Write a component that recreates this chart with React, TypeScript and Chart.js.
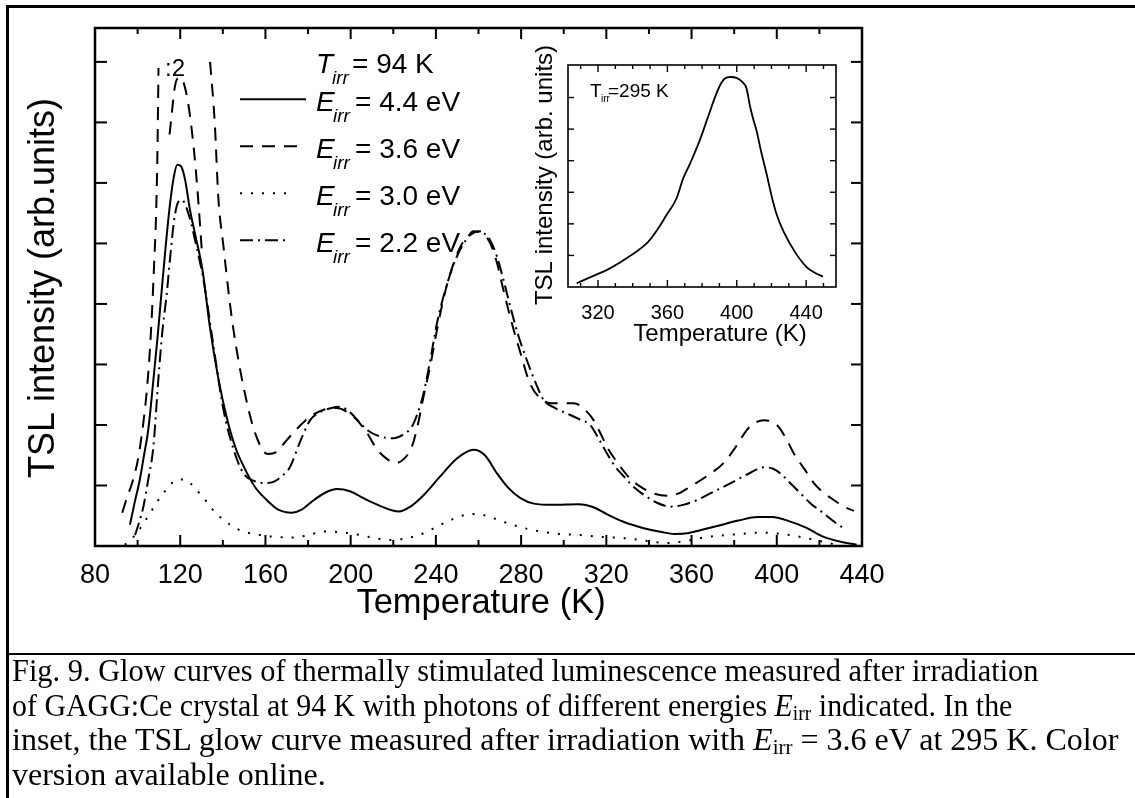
import React, { useEffect, useRef } from "react";
import { Chart, registerables } from "chart.js";

Chart.register(...registerables);

const SANS = "'Liberation Sans', Arial, Helvetica, sans-serif";
const SERIF = "'Liberation Serif', 'Times New Roman', serif";

// ---- main chart data: [temperature (K), TSL intensity (arb. units)] ----
const E44: [number, number][] = [
  [96.4, 0.35], [98.5, 0.7], [101, 1.09], [103, 1.5], [105, 1.92], [107.4, 2.74], [109.5, 3.5],
  [111.5, 4.3], [113.3, 5.0], [115.2, 5.65], [117, 6.1], [118.6, 6.3], [120.3, 6.28], [122.3, 6.05],
  [124.6, 5.55], [127, 5.15], [130.5, 4.55], [134, 3.6], [138, 2.75], [142, 2.1], [146, 1.62],
  [150, 1.3], [155, 0.98], [160.6, 0.76], [166, 0.6], [172.4, 0.55], [177, 0.6], [182, 0.74],
  [188, 0.88], [193.5, 0.94], [200, 0.9], [206, 0.79], [214, 0.66], [222.5, 0.57], [228, 0.65],
  [234.2, 0.84], [242, 1.15], [250, 1.45], [257.7, 1.59], [263, 1.5], [268.7, 1.2], [274, 0.96],
  [279.7, 0.79], [286, 0.7], [295, 0.68], [307, 0.69], [314, 0.64], [320, 0.53], [328, 0.4],
  [338, 0.29], [346, 0.23], [352, 0.2], [358, 0.21], [364, 0.26], [372, 0.33], [382, 0.42],
  [391, 0.48], [398, 0.48], [405, 0.42], [414, 0.3], [422, 0.15], [430, 0.07], [437.5, 0.02],
];

// E = 3.6 eV, full scale (first peak runs off the top of the plot)
const E36_LEFT: [number, number][] = [
  [92.8, 0.55], [95, 0.8], [97.5, 1.05], [100, 1.4], [102, 1.85], [104, 2.45], [105.5, 3.1],
  [106.8, 3.9], [107.8, 4.7], [108.6, 5.4], [109.3, 6.5], [109.8, 7.9],
];
const E36_RIGHT: [number, number][] = [
  [134, 8.0], [136.2, 7.0], [137.9, 5.75], [140.3, 4.95], [143, 4.1], [145, 3.57], [149.7, 2.63],
  [155.2, 1.86], [161, 1.52], [165, 1.55], [170, 1.75], [176, 1.98], [181, 2.14], [188, 2.26],
  [193.5, 2.28], [199, 2.2], [203, 2.08], [208, 1.85], [212.3, 1.6], [217, 1.44], [221, 1.37],
  [225, 1.44], [228.7, 1.64], [231.5, 2.0], [234.2, 2.47], [237.5, 3.0], [240.5, 3.57], [244, 4.15],
  [248.3, 4.67], [252, 4.98], [256.1, 5.14], [260.8, 5.2], [265.5, 5.0], [268.5, 4.7], [271.7, 4.23],
  [275.5, 3.7], [279.7, 3.19], [284, 2.7], [289, 2.44], [294, 2.36], [304.7, 2.36], [310, 2.25],
  [314, 2.08], [317, 1.88], [320.3, 1.64], [326.6, 1.31], [331, 1.12], [336, 0.98], [342, 0.87],
  [348.5, 0.83], [354, 0.87], [359.3, 0.98], [367, 1.15], [375, 1.37], [381, 1.65], [386, 1.92],
  [390, 2.04], [394, 2.08], [400, 2.0], [404, 1.8], [408, 1.53], [413, 1.27], [417.4, 1.04],
  [422, 0.88], [426.8, 0.76], [431, 0.66], [436.2, 0.58],
];
// E = 3.6 eV, first peak divided by 2 (":2")
const E36_HALF: [number, number][] = [
  [115.0, 6.8], [116.2, 7.2], [117.3, 7.55], [118.6, 7.72], [120.2, 7.74], [121.9, 7.62],
  [123.8, 7.3], [125.5, 6.85], [127.1, 6.3], [128.7, 5.6], [130.1, 4.9],
];

const E30: [number, number][] = [
  [94, 0.02], [96.5, 0.1], [99.6, 0.21], [102.5, 0.36], [105.8, 0.54], [109, 0.72], [112.1, 0.87],
  [115.5, 1.02], [119.1, 1.1], [121.5, 1.1], [124.6, 1.04], [127.5, 0.93], [130.9, 0.8], [134.5, 0.63],
  [138.7, 0.48], [143, 0.36], [148.1, 0.26], [157.5, 0.18], [165, 0.15], [173.2, 0.14], [180, 0.18],
  [187.3, 0.24], [194, 0.23], [201.4, 0.2], [210, 0.14], [218.6, 0.1], [225, 0.12], [231.1, 0.17],
  [236, 0.24], [240.5, 0.32], [247, 0.43], [254.6, 0.52], [259.3, 0.53], [266, 0.47], [273.4, 0.38],
  [281, 0.3], [289, 0.24], [298, 0.2], [307.8, 0.18], [318, 0.15], [328.2, 0.13], [338, 0.09],
  [348.5, 0.05], [357, 0.08], [367.3, 0.15], [380, 0.19], [392.4, 0.22], [402, 0.2], [411.2, 0.15],
  [418, 0.1], [425.3, 0.04], [430, 0.01],
];

const E22: [number, number][] = [
  [98.8, 0.18], [100.8, 0.4], [102.7, 0.65], [105, 1.1], [107.4, 1.64], [109.7, 2.74], [111.5, 3.5],
  [113.7, 4.18], [115.5, 4.85], [117.2, 5.4], [119, 5.68], [120.8, 5.72], [122.8, 5.6], [125, 5.35],
  [127.3, 5.0], [130.9, 4.4], [135, 3.45], [140.3, 2.25], [145, 1.6], [149.7, 1.2], [155, 1.07],
  [160, 1.04], [163.8, 1.06], [167.5, 1.15], [171.6, 1.31], [176, 1.7], [181, 2.08], [186, 2.22],
  [191, 2.28], [195.1, 2.3], [200, 2.2], [204, 2.05], [207.6, 1.92], [213, 1.82], [220.1, 1.78],
  [225, 1.85], [228.7, 1.97], [231.5, 2.2], [234.2, 2.52], [237.5, 3.1], [240.5, 3.68], [245, 4.3],
  [249.8, 4.78], [254, 5.05], [257.7, 5.2], [262.4, 5.17], [265.5, 5.05], [268.7, 4.78], [271.7, 4.4],
  [274.9, 3.96], [278.5, 3.5], [282.7, 3.07], [287, 2.68], [290.6, 2.41], [296, 2.28], [301.5, 2.19],
  [307, 2.1], [312.4, 2.0], [316, 1.8], [320.3, 1.53], [324, 1.32], [328.2, 1.15], [333, 0.97],
  [339.1, 0.81], [344, 0.71], [350.1, 0.65], [356, 0.68], [362.6, 0.76], [370, 0.89], [378.4, 1.04],
  [386, 1.18], [393.9, 1.3], [398, 1.28], [401.7, 1.2], [406, 1.05], [411.1, 0.87], [416, 0.7],
  [422, 0.54], [427, 0.4], [431.5, 0.29],
];

const MAIN_X_TICKS = [80, 120, 160, 200, 240, 280, 320, 360, 400, 440];
const MAIN_X_MINOR = [100, 140, 180, 220, 260, 300, 340, 380, 420];
const MAIN_Y_TICKS = [1, 2, 3, 4, 5, 6, 7, 8];
const LEGEND_TITLE = "= 94 K";
const LEGEND_LABELS = ["= 4.4 eV", "= 3.6 eV", "= 3.0 eV", "= 2.2 eV"];

// ---- inset data: E = 3.6 eV irradiated at 295 K ----
const INSET: [number, number][] = [
  [307.7, 0.12], [316, 0.32], [326.9, 0.59], [338.4, 0.98], [348.9, 1.43], [354, 1.8], [359.5, 2.28],
  [365.3, 2.81], [369.1, 3.44], [373, 3.9], [378.7, 4.65], [383.5, 5.4], [388.3, 6.13], [391, 6.45],
  [393.1, 6.6], [396.5, 6.65], [399.8, 6.62], [403, 6.5], [405.6, 6.29], [407.5, 5.76], [409.3, 5.35],
  [411.3, 4.97], [414, 4.3], [417.1, 3.6], [420, 2.9], [422.8, 2.33], [427, 1.75], [433.4, 1.12],
  [440.1, 0.64], [445, 0.45], [449.7, 0.33],
];
const INSET_X_TICKS = [320, 360, 400, 440];
const INSET_X_MINOR = [310, 330, 340, 350, 370, 380, 390, 410, 420, 430, 450];
const INSET_Y_TICKS = [1, 2, 3, 4, 5, 6];

// ---- styles ----
const SOLID: number[] = [];
const DASH = [13, 9];
const DOT = [2, 9];
const DASHDOT = [13, 5, 2, 5];
const LEGEND_DASHES = [SOLID, DASH, DOT, DASHDOT];
const LEGEND_LEN = [66, 57, 52, 49];

function ds(data: [number, number][], dash: number[], width = 2) {
  return {
    data: data.map(([x, y]) => ({ x, y })),
    borderColor: "#000",
    borderWidth: width,
    borderDash: dash,
    borderCapStyle: "butt",
    borderJoinStyle: "round",
    pointRadius: 0,
    showLine: true,
    fill: false,
    cubicInterpolationMode: "monotone",
  };
}

function seg(ctx: CanvasRenderingContext2D, x1: number, y1: number, x2: number, y2: number) {
  ctx.beginPath();
  ctx.moveTo(x1, y1);
  ctx.lineTo(x2, y2);
  ctx.stroke();
}

const mainDecor = {
  id: "mainDecor",
  afterDraw(chart: any) {
    const { ctx, chartArea: a, scales } = chart;
    const x = scales.x;
    const y = scales.y;
    ctx.save();
    ctx.setLineDash([]);
    ctx.strokeStyle = "#000";
    ctx.lineWidth = 2.5;
    ctx.strokeRect(a.left, a.top, a.right - a.left, a.bottom - a.top);
    ctx.lineWidth = 2;
    MAIN_X_TICKS.forEach((t) => {
      const px = x.getPixelForValue(t);
      seg(ctx, px, a.bottom, px, a.bottom - 11);
      seg(ctx, px, a.top, px, a.top + 11);
    });
    MAIN_X_MINOR.forEach((t) => {
      const px = x.getPixelForValue(t);
      seg(ctx, px, a.bottom, px, a.bottom - 6);
      seg(ctx, px, a.top, px, a.top + 6);
    });
    MAIN_Y_TICKS.forEach((v) => {
      const py = y.getPixelForValue(v);
      seg(ctx, a.left, py, a.left + 12, py);
      seg(ctx, a.right, py, a.right - 11, py);
    });

    ctx.fillStyle = "#000";
    ctx.textBaseline = "alphabetic";
    // axis titles
    ctx.font = `34.5px ${SANS}`;
    ctx.textAlign = "center";
    ctx.fillText("Temperature (K)", 481, 613);
    ctx.save();
    ctx.translate(54, 288);
    ctx.rotate(-Math.PI / 2);
    ctx.font = `36px ${SANS}`;
    ctx.fillText("TSL intensity (arb.units)", 0, 0);
    ctx.restore();

    // ":2" marker
    ctx.textAlign = "left";
    ctx.font = `24px ${SANS}`;
    ctx.fillText(":2", 165, 76);

    // legend
    ctx.font = `italic 28px ${SANS}`;
    ctx.fillText("T", 316, 73);
    ctx.font = `italic 19px ${SANS}`;
    ctx.fillText("irr", 332, 84);
    ctx.font = `28px ${SANS}`;
    ctx.fillText(LEGEND_TITLE, 352, 73);
    LEGEND_LABELS.forEach((lab, i) => {
      const b = 110.7 + i * 47;
      ctx.setLineDash(LEGEND_DASHES[i]);
      ctx.lineWidth = 2;
      seg(ctx, 240, b - 11.5, 240 + LEGEND_LEN[i], b - 11.5);
      ctx.setLineDash([]);
      ctx.font = `italic 28px ${SANS}`;
      ctx.fillText("E", 316, b);
      ctx.font = `italic 19px ${SANS}`;
      ctx.fillText("irr", 333, b + 11);
      ctx.font = `28px ${SANS}`;
      ctx.fillText(lab, 355, b);
    });
    ctx.restore();
  },
};

const insetDecor = {
  id: "insetDecor",
  afterDraw(chart: any) {
    const { ctx, chartArea: a, scales } = chart;
    const x = scales.x;
    const y = scales.y;
    ctx.save();
    ctx.setLineDash([]);
    ctx.strokeStyle = "#000";
    ctx.lineWidth = 1.6;
    ctx.strokeRect(a.left, a.top, a.right - a.left, a.bottom - a.top);
    ctx.lineWidth = 1.4;
    INSET_X_TICKS.forEach((t) => {
      const px = x.getPixelForValue(t);
      seg(ctx, px, a.bottom, px, a.bottom - 7);
      seg(ctx, px, a.top, px, a.top + 7);
    });
    INSET_X_MINOR.forEach((t) => {
      const px = x.getPixelForValue(t);
      seg(ctx, px, a.bottom, px, a.bottom - 4);
      seg(ctx, px, a.top, px, a.top + 4);
    });
    INSET_Y_TICKS.forEach((v) => {
      const py = y.getPixelForValue(v);
      seg(ctx, a.left, py, a.left + 6, py);
      seg(ctx, a.right, py, a.right - 6, py);
    });
    ctx.fillStyle = "#000";
    ctx.textBaseline = "alphabetic";
    ctx.textAlign = "center";
    ctx.font = `24px ${SANS}`;
    ctx.fillText("Temperature (K)", 220, 311);
    ctx.save();
    ctx.translate(52, 145);
    ctx.rotate(-Math.PI / 2);
    ctx.font = `24px ${SANS}`;
    ctx.fillText("TSL intensity (arb. units)", 0, 0);
    ctx.restore();
    ctx.textAlign = "left";
    ctx.font = `19px ${SANS}`;
    ctx.fillText("T", 90, 67);
    ctx.font = `10px ${SANS}`;
    ctx.fillText("irr", 101, 72);
    ctx.font = `19px ${SANS}`;
    ctx.fillText("=295 K", 108, 67);
    ctx.restore();
  },
};

export default function App() {
  const mainRef = useRef<HTMLCanvasElement | null>(null);
  const insetRef = useRef<HTMLCanvasElement | null>(null);

  useEffect(() => {
    const main = new Chart(mainRef.current as HTMLCanvasElement, {
      type: "scatter",
      data: {
        datasets: [
          ds(E44, SOLID),
          ds(E36_LEFT, DASH),
          ds(E36_RIGHT, DASH),
          ds(E36_HALF, DASH),
          ds(E30, DOT),
          ds(E22, DASHDOT),
        ] as any,
      },
      options: {
        responsive: false,
        animation: false,
        maintainAspectRatio: false,
        layout: { padding: { left: 0, top: 28, right: 1135 - 862, bottom: 0 } },
        plugins: { legend: { display: false }, tooltip: { enabled: false } },
        scales: {
          x: {
            type: "linear",
            min: 80,
            max: 440,
            afterFit: (s: any) => {
              s.height = 654 - 546;
            },
            afterBuildTicks: (s: any) => {
              s.ticks = MAIN_X_TICKS.map((v) => ({ value: v }));
            },
            ticks: {
              color: "#000",
              font: { family: SANS, size: 27 },
              padding: 5,
              maxRotation: 0,
              autoSkip: false,
            },
            grid: { display: false },
            border: { display: false },
          },
          y: {
            type: "linear",
            min: 0,
            max: 8.56,
            afterFit: (s: any) => {
              s.width = 95;
            },
            ticks: { display: false },
            grid: { display: false },
            border: { display: false },
          },
        },
      } as any,
      plugins: [mainDecor],
    });

    const inset = new Chart(insetRef.current as HTMLCanvasElement, {
      type: "scatter",
      data: { datasets: [ds(INSET, SOLID, 1.8)] as any },
      options: {
        responsive: false,
        animation: false,
        maintainAspectRatio: false,
        layout: { padding: { left: 0, top: 35, right: 24, bottom: 0 } },
        plugins: { legend: { display: false }, tooltip: { enabled: false } },
        scales: {
          x: {
            type: "linear",
            min: 302.7,
            max: 457.2,
            afterFit: (s: any) => {
              s.height = 330 - 257;
            },
            afterBuildTicks: (s: any) => {
              s.ticks = INSET_X_TICKS.map((v) => ({ value: v }));
            },
            ticks: {
              color: "#000",
              font: { family: SANS, size: 20 },
              padding: 6,
              maxRotation: 0,
              autoSkip: false,
            },
            grid: { display: false },
            border: { display: false },
          },
          y: {
            type: "linear",
            min: 0,
            max: 7.03,
            afterFit: (s: any) => {
              s.width = 68;
            },
            ticks: { display: false },
            grid: { display: false },
            border: { display: false },
          },
        },
      } as any,
      plugins: [insetDecor],
    });

    return () => {
      main.destroy();
      inset.destroy();
    };
  }, []);

  const sub = { fontSize: 21, position: "relative" as const, top: 4, lineHeight: 0 };
  const line = (top: number, sx: number) => ({
    position: "absolute" as const,
    left: 12,
    top,
    fontFamily: SERIF,
    fontSize: 32,
    lineHeight: "34.5px",
    whiteSpace: "nowrap" as const,
    color: "#000",
    transform: `scaleX(${sx})`,
    transformOrigin: "0 0",
  });

  return (
    <div
      style={{
        position: "absolute",
        left: 0,
        top: 0,
        width: 1135,
        height: 798,
        background: "#fff",
        overflow: "hidden",
      }}
    >
      <canvas ref={mainRef} width={1135} height={654} style={{ position: "absolute", left: 0, top: 0 }} />
      <canvas ref={insetRef} width={360} height={330} style={{ position: "absolute", left: 500, top: 30 }} />
      <div style={{ position: "absolute", left: 6, top: 5, width: 1129, height: 2.5, background: "#000" }} />
      <div style={{ position: "absolute", left: 6, top: 5, width: 2.5, height: 793, background: "#000" }} />
      <div style={{ position: "absolute", left: 6, top: 652.5, width: 1129, height: 2.5, background: "#000" }} />
      <div style={line(653, 0.95)}>
        Fig. 9. Glow curves of thermally stimulated luminescence measured after irradiation
      </div>
      <div style={line(687.5, 0.935)}>
        of GAGG:Ce crystal at 94 K with photons of different energies <i>E</i>
        <span style={sub}>irr</span> indicated. In the
      </div>
      <div style={line(722, 1.0)}>
        inset, the TSL glow curve measured after irradiation with <i>E</i>
        <span style={sub}>irr</span> = 3.6 eV at 295 K. Color
      </div>
      <div style={line(756.5, 1.0)}>version available online.</div>
    </div>
  );
}
